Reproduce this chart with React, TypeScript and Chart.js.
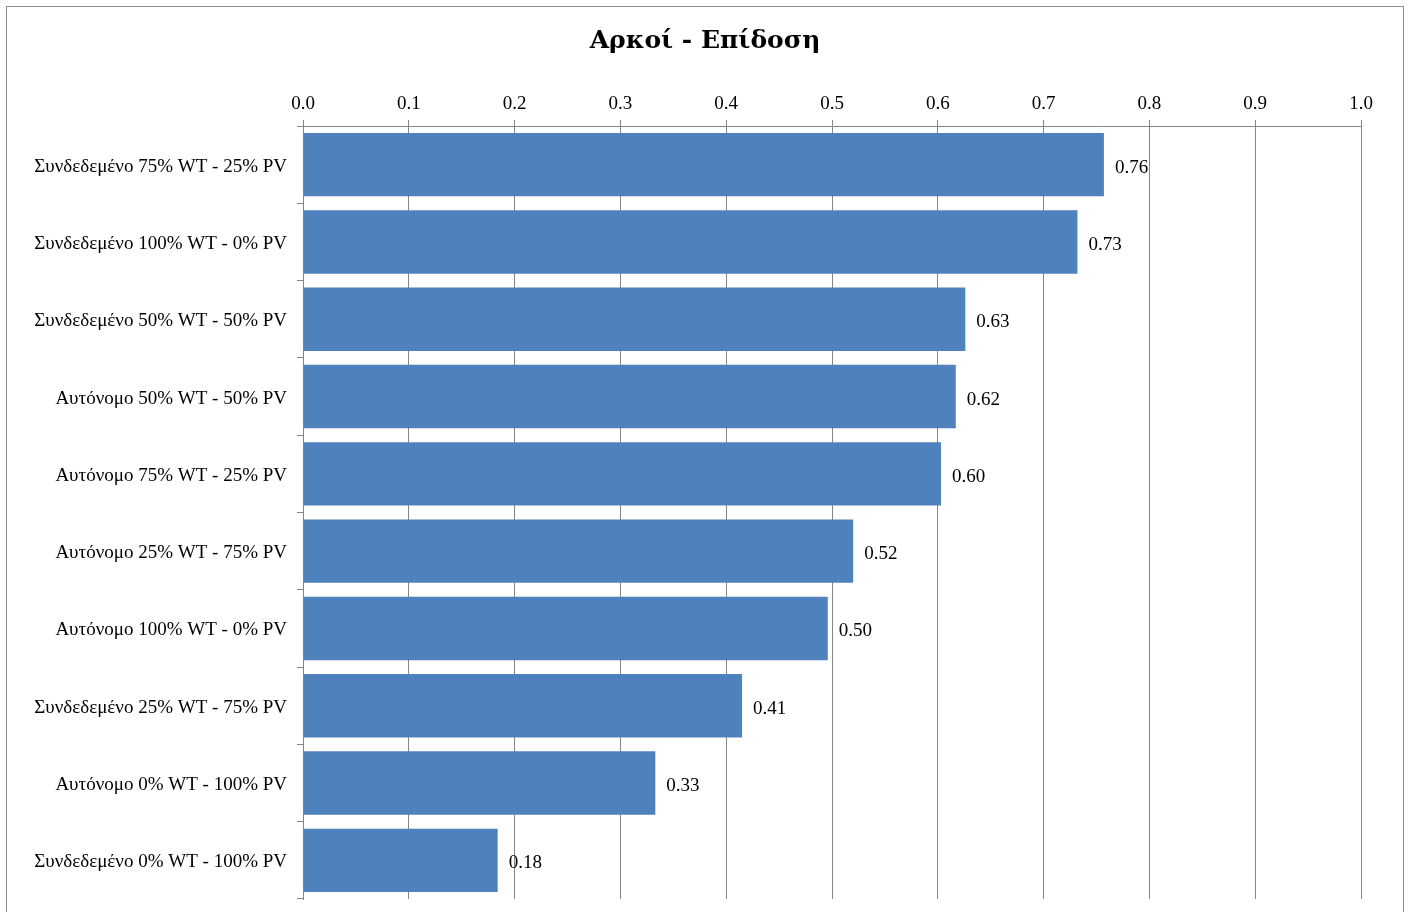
import React, { useEffect, useRef } from "react";
import { Chart, registerables } from "chart.js";

Chart.register(...registerables);

const categories = [
  "Συνδεδεμένο 75% WT - 25% PV",
  "Συνδεδεμένο 100% WT - 0% PV",
  "Συνδεδεμένο 50% WT - 50% PV",
  "Αυτόνομο 50% WT - 50% PV",
  "Αυτόνομο 75% WT - 25% PV",
  "Αυτόνομο 25% WT - 75% PV",
  "Αυτόνομο 100% WT - 0% PV",
  "Συνδεδεμένο 25% WT - 75% PV",
  "Αυτόνομο 0% WT - 100% PV",
  "Συνδεδεμένο 0% WT - 100% PV",
];

const performance = [0.757, 0.732, 0.626, 0.617, 0.603, 0.52, 0.496, 0.415, 0.333, 0.184];

const xTicks = [0, 0.1, 0.2, 0.3, 0.4, 0.5, 0.6, 0.7, 0.8, 0.9, 1.0];

const TITLE = "Αρκοί - Επίδοση";
const SERIF = "'Liberation Serif', 'Times New Roman', serif";
const GRID = "#868686";

const framePlugin = {
  id: "frameAndTitle",
  beforeDraw(chart: any) {
    const { ctx } = chart;
    ctx.save();
    ctx.fillStyle = "#ffffff";
    ctx.fillRect(0, 0, chart.width, chart.height);
    ctx.strokeStyle = "#8c8c8c";
    ctx.lineWidth = 1;
    ctx.strokeRect(6.5, 6.5, chart.width - 13, chart.height + 20);
    ctx.fillStyle = "#000000";
    ctx.font = "bold 25px 'DejaVu Serif', serif";
    ctx.textAlign = "center";
    ctx.textBaseline = "middle";
    ctx.fillText(TITLE, 705, 41);
    ctx.restore();
  },
};

const valueLabelPlugin = {
  id: "valueLabels",
  afterDatasetsDraw(chart: any) {
    const { ctx } = chart;
    const meta = chart.getDatasetMeta(0);
    ctx.save();
    ctx.fillStyle = "#000000";
    ctx.font = `19px ${SERIF}`;
    ctx.textAlign = "left";
    ctx.textBaseline = "middle";
    meta.data.forEach((bar: any, i: number) => {
      const v = chart.data.datasets[0].data[i] as number;
      ctx.fillText(v.toFixed(2), bar.x + 11, bar.y + 3);
    });
    ctx.restore();
  },
};

export default function App() {
  const canvasRef = useRef<HTMLCanvasElement | null>(null);

  useEffect(() => {
    if (!canvasRef.current) return;
    const chart = new Chart(canvasRef.current, {
      type: "bar",
      data: {
        labels: categories,
        datasets: [
          {
            data: performance,
            backgroundColor: "#4f81bd",
            borderWidth: 0,
            barPercentage: 0.82,
            categoryPercentage: 1,
          },
        ],
      },
      options: {
        indexAxis: "y",
        animation: false,
        responsive: false,
        maintainAspectRatio: false,
        layout: { padding: { top: 80, right: 49, bottom: 13, left: 0 } },
        plugins: {
          legend: { display: false },
          tooltip: { enabled: false },
          title: { display: false },
        },
        scales: {
          x: {
            position: "top",
            min: 0,
            max: 1,
            afterBuildTicks(scale: any) {
              scale.ticks = xTicks.map((v) => ({ value: v }));
            },
            afterFit(scale: any) {
              scale.height = 46;
            },
            ticks: {
              color: "#000000",
              font: { family: SERIF, size: 19 },
              padding: 5,
              callback: (v: any) => Number(v).toFixed(1),
            },
            grid: {
              color: GRID,
              lineWidth: 1,
              drawTicks: true,
              tickLength: 6,
            },
            border: { color: GRID, width: 1 },
          },
          y: {
            afterFit(scale: any) {
              scale.width = 303;
              scale.paddingTop = 0;
              scale.paddingBottom = 0;
            },
            ticks: {
              color: "#000000",
              font: { family: SERIF, size: 19 },
              padding: 10,
              labelOffset: 2,
            },
            grid: {
              color: GRID,
              lineWidth: 1,
              drawOnChartArea: false,
              drawTicks: true,
              tickLength: 6,
              offset: true,
            },
            border: { color: GRID, width: 1 },
          },
        },
      },
      plugins: [framePlugin, valueLabelPlugin],
    });
    return () => chart.destroy();
  }, []);

  return (
    <div style={{ position: "fixed", left: 0, top: 0, width: 1410, height: 912, background: "#fff" }}>
      <canvas ref={canvasRef} width={1410} height={912} style={{ display: "block" }} />
    </div>
  );
}
